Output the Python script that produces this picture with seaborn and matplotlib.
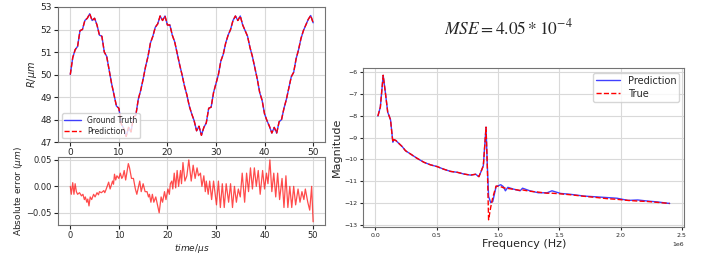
import matplotlib
matplotlib.use('Agg')
import matplotlib.pyplot as plt
import seaborn as sns
import numpy as np

# ---- time-domain signal (0.5 us spacing)
gt_r = [50.00, 50.75, 51.10, 51.25, 51.95, 52.00, 52.40, 52.50, 52.70, 52.40,
        52.50, 52.20, 51.75, 51.70, 51.00, 50.80, 50.20, 49.60, 49.10, 48.60,
        48.50, 47.80, 47.60, 47.25, 47.65, 47.45, 48.10, 48.20, 48.90, 49.30,
        49.80, 50.35, 50.80, 51.40, 51.70, 52.10, 52.25, 52.60, 52.40, 52.60,
        52.20, 52.20, 51.75, 51.45, 50.95, 50.45, 50.00, 49.50, 49.10, 48.60,
        48.25, 47.95, 47.50, 47.70, 47.30, 47.65, 47.85, 48.50, 48.55, 49.20,
        49.60, 50.00, 50.60, 50.90, 51.40, 51.75, 52.00, 52.40, 52.60, 52.40,
        52.60, 52.20, 51.95, 51.70, 51.20, 50.80, 50.30, 49.80, 49.20, 48.85,
        48.25, 47.95, 47.70, 47.40, 47.65, 47.40, 47.90, 48.00, 48.50, 48.90,
        49.40, 49.90, 50.10, 50.70, 51.10, 51.60, 51.95, 52.20, 52.45, 52.62,
        52.30]
# prediction differs from ground truth by less than a pixel
pred_r = list(gt_r)
time_r = np.linspace(0, 50, len(gt_r))

# ---- absolute error (turning points)
err_t = [0.0, 0.2, 0.5, 0.75, 1.0, 1.25, 1.5, 1.9, 2.3, 2.6,
         2.9, 3.1, 3.4, 3.6, 3.85, 4.1, 4.4, 4.8, 5.1, 5.5,
         5.8, 6.0, 6.4, 6.9, 7.1, 7.4, 7.9, 8.2, 8.7, 8.9,
         9.1, 9.35, 9.6, 10.0, 10.3, 10.6, 10.8, 11.1, 11.4, 11.95,
         12.2, 12.6, 13.0, 13.4, 13.7, 14.3, 14.6, 15.0, 15.4, 15.8,
         16.1, 16.3, 16.6, 16.9, 17.2, 17.6, 18.3, 18.7, 19.0, 19.4,
         19.7, 20.1, 20.4, 20.6, 20.9, 21.1, 21.4, 21.7, 22.0, 22.3,
         22.7, 22.9, 23.2, 23.6, 24.0, 24.4, 24.9, 25.3, 25.7, 26.1,
         26.4, 26.8, 27.1, 27.5, 27.8, 28.0, 28.4, 28.7, 29.1, 29.5,
         30.1, 30.5, 30.9, 31.3, 31.7, 32.1, 32.6, 33.0, 33.4, 33.8,
         34.2, 34.6, 35.0, 35.4, 35.9, 36.3, 36.7, 37.1, 37.5, 37.9,
         38.3, 38.7, 39.1, 39.6, 40.0, 40.4, 40.7, 41.1, 41.5, 41.9,
         42.3, 42.7, 43.1, 43.6, 44.0, 44.4, 44.8, 45.2, 45.6, 46.0,
         46.4, 46.9, 47.3, 47.7, 48.1, 48.4, 48.9, 49.3, 49.7, 50.0]
err_v = [0.000, -0.015, 0.007, -0.015, 0.005, -0.010, -0.015, -0.012, -0.018, -0.015,
         -0.025, -0.020, -0.030, -0.024, -0.037, -0.020, -0.025, -0.015, -0.020, -0.012,
         -0.016, -0.010, -0.012, -0.008, -0.012, -0.005, 0.008, -0.005, 0.010, 0.004,
         0.023, 0.012, 0.020, 0.015, 0.025, 0.015, 0.018, 0.030, 0.012, 0.043,
         0.035, 0.015, 0.015, -0.005, -0.015, 0.010, -0.010, 0.005, -0.010, -0.010,
         -0.020, -0.015, -0.030, -0.015, -0.030, -0.020, -0.050, -0.020, -0.030, -0.010,
         -0.025, -0.005, -0.015, 0.005, 0.010, -0.005, 0.025, -0.003, 0.030, 0.000,
         0.030, 0.005, 0.045, 0.010, 0.020, 0.050, 0.010, 0.040, 0.015, 0.035,
         0.020, 0.025, 0.000, 0.020, -0.010, 0.010, -0.015, 0.010, -0.025, 0.010,
         -0.035, 0.010, -0.040, 0.005, -0.040, 0.005, -0.030, 0.005, -0.040, 0.000,
         -0.030, -0.005, -0.020, 0.025, -0.030, 0.025, -0.010, 0.035, -0.005, 0.035,
         0.000, 0.030, -0.015, 0.030, -0.005, 0.025, 0.005, 0.050, -0.010, 0.025,
         -0.020, 0.025, -0.025, 0.015, -0.040, 0.020, -0.040, 0.000, -0.040, 0.000,
         -0.035, -0.005, -0.030, -0.010, -0.025, -0.005, -0.030, -0.045, 0.000, -0.067]

# ---- spectrum (frequency in MHz, log magnitude)
freq_mhz = [0.02, 0.04, 0.063, 0.082, 0.10, 0.123, 0.142, 0.15, 0.166, 0.19,
            0.218, 0.245, 0.286, 0.34, 0.395, 0.45, 0.504, 0.558, 0.613, 0.667,
            0.722, 0.776, 0.817, 0.844, 0.864, 0.88, 0.902, 0.912, 0.923, 0.94,
            0.957, 0.984, 1.022, 1.044, 1.06, 1.08, 1.125, 1.18, 1.2, 1.26,
            1.33, 1.40, 1.44, 1.51, 1.59, 1.70, 1.81, 1.89, 1.97, 2.06,
            2.14, 2.22, 2.30, 2.40]
mag_pred = [-8.01, -7.6, -6.14, -6.98, -7.83, -8.18, -9.21, -9.09, -9.13, -9.26,
            -9.41, -9.6, -9.75, -9.95, -10.13, -10.25, -10.33, -10.45, -10.55, -10.59,
            -10.67, -10.72, -10.68, -10.79, -10.52, -10.29, -8.52, -10.2, -11.7, -11.98,
            -11.93, -11.25, -11.16, -11.25, -11.44, -11.28, -11.36, -11.44, -11.32, -11.44,
            -11.53, -11.53, -11.44, -11.56, -11.6, -11.68, -11.72, -11.75, -11.78, -11.88,
            -11.86, -11.91, -11.95, -12.02]
mag_true = [-8.01, -7.6, -6.14, -6.98, -7.83, -8.18, -9.21, -9.09, -9.13, -9.26,
            -9.41, -9.6, -9.75, -9.95, -10.13, -10.25, -10.33, -10.45, -10.55, -10.59,
            -10.67, -10.72, -10.68, -10.79, -10.52, -10.29, -8.52, -10.2, -12.77, -12.2,
            -11.75, -11.22, -11.25, -11.3, -11.32, -11.33, -11.37, -11.42, -11.4, -11.46,
            -11.5, -11.55, -11.55, -11.58, -11.62, -11.69, -11.75, -11.8, -11.83, -11.88,
            -11.91, -11.93, -11.97, -12.02]
mse_text = r'$MSE = 4.05 * 10^{-4}$'

sns.set_style('whitegrid', {'axes.edgecolor': '0.45', 'grid.color': '0.85',
                            'xtick.bottom': True, 'ytick.left': True})
plt.rcParams['font.family'] = ['DejaVu Sans']
plt.rcParams['mathtext.fontset'] = 'dejavusans'

fig = plt.figure(figsize=(7.18, 2.69), dpi=100)
ax_r = fig.add_axes([0.081, 0.472, 0.372, 0.502])
ax_e = fig.add_axes([0.081, 0.164, 0.372, 0.253])
ax_f = fig.add_axes([0.506, 0.156, 0.447, 0.591])

# time signal
sns.lineplot(x=time_r, y=gt_r, ax=ax_r, color='blue', lw=1, alpha=0.75,
             label='Ground Truth', sort=False)
sns.lineplot(x=time_r, y=pred_r, ax=ax_r, color='red', lw=1, ls='--',
             label='Prediction', sort=False)
ax_r.set_ylim(47, 53)
ax_r.set_xticks([0, 10, 20, 30, 40, 50])
ax_r.set_ylabel(r'$R/\mu m$', fontsize=7, labelpad=1)
ax_r.tick_params(labelsize=6.5, length=3, pad=1.5)
ax_r.legend(loc='lower left', fontsize=5.5, frameon=True, handlelength=2.2,
            borderpad=0.3, labelspacing=0.3)

# error
sns.lineplot(x=err_t, y=err_v, ax=ax_e, color='red', lw=0.9, alpha=0.7, sort=False)
ax_e.set_xticks([0, 10, 20, 30, 40, 50])
ax_e.set_yticks([-0.05, 0.0, 0.05])
ax_e.set_ylabel(r'Absolute error ($\mu m$)', fontsize=6.5, labelpad=1)
ax_e.set_xlabel(r'$time/\mu s$', fontsize=6.5, labelpad=1)
ax_e.tick_params(labelsize=6, length=3, pad=1.5)

# spectrum
fr = np.array(freq_mhz) * 1e6
sns.lineplot(x=fr, y=mag_pred, ax=ax_f, color='blue', lw=1, alpha=0.75,
             label='Prediction', sort=False)
sns.lineplot(x=fr, y=mag_true, ax=ax_f, color='red', lw=1, ls='--',
             label='True', sort=False)
ax_f.set_xticks([0, 0.5e6, 1.0e6, 1.5e6, 2.0e6, 2.5e6])
ax_f.set_xlabel('Frequency (Hz)', fontsize=8, labelpad=1)
ax_f.set_ylabel('Magnitude', fontsize=8, labelpad=2)
ax_f.tick_params(labelsize=4.5, length=2.5, pad=1.5)
ax_f.xaxis.get_offset_text().set_fontsize(4.5)
ax_f.legend(loc='upper right', fontsize=7, handlelength=2.5, borderpad=0.3,
            labelspacing=0.3)

fig.text(0.708, 0.895, mse_text, fontsize=12.5, ha='center', va='center',
         math_fontfamily='stix')

fig.savefig('out.png', dpi=100)
